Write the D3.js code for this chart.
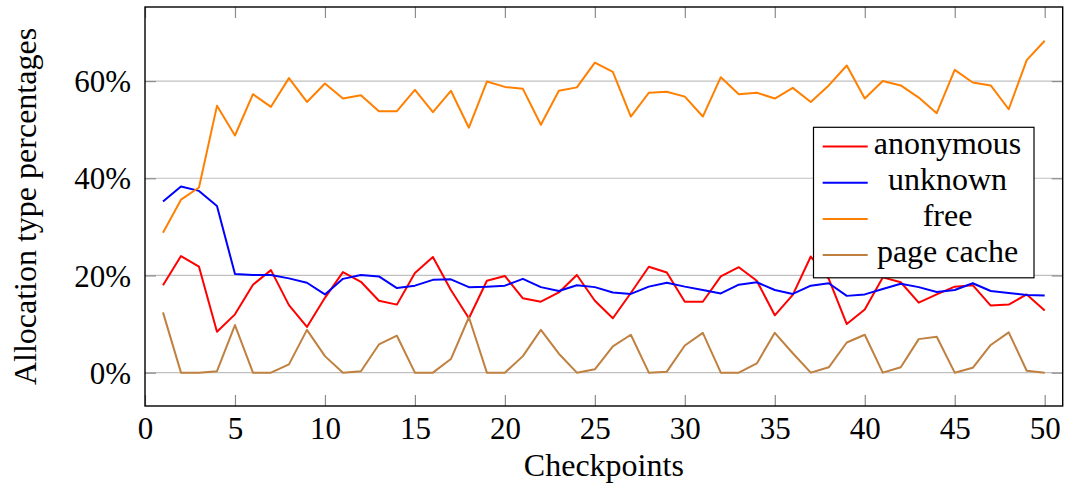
<!DOCTYPE html>
<html>
<head>
<meta charset="utf-8">
<script src="https://cdn.jsdelivr.net/npm/d3@7"></script>
</head>
<body style="margin:0">
<script>
// Chart size and plot box
const width = 1068;
const height = 489;
const box = { left: 145, right: 1062.7, top: 7, bottom: 406 };
const serifFont = '"Liberation Serif"';
const tickFontSize = "31px";
const labelFontSize = "32px";

// Data (percent per checkpoint)
const checkpoints = d3.range(1, 51);
const anonymous = [18.0, 24.0, 21.8, 8.4, 12.0, 18.1, 21.1, 13.9, 9.4, 15.4,
  20.7, 18.7, 14.8, 14.0, 20.5, 23.8, 17.0, 11.2, 18.9, 19.9,
  15.3, 14.6, 16.5, 20.1, 14.8, 11.2, 16.4, 21.8, 20.6, 14.6,
  14.6, 19.8, 21.7, 18.9, 11.8, 16.0, 23.9, 19.3, 10.0, 13.0,
  19.6, 18.6, 14.4, 16.1, 17.7, 18.0, 13.8, 14.0, 16.1, 12.8];
const unknown = [35.2, 38.3, 37.4, 34.3, 20.3, 20.1, 20.1, 19.4, 18.5, 16.1,
  19.3, 20.1, 19.8, 17.4, 17.9, 19.1, 19.2, 17.6, 17.7, 17.9,
  19.3, 17.6, 16.8, 18.0, 17.6, 16.5, 16.2, 17.7, 18.5, 17.7,
  17.0, 16.3, 18.1, 18.6, 17.0, 16.2, 17.9, 18.4, 15.8, 16.1,
  17.2, 18.3, 17.6, 16.6, 17.0, 18.4, 16.8, 16.4, 16.0, 15.9];
const free = [28.8, 35.6, 38.1, 54.9, 48.8, 57.3, 54.7, 60.6, 55.7, 59.5,
  56.4, 57.1, 53.8, 53.8, 58.2, 53.6, 58.0, 50.4, 59.9, 58.8,
  58.4, 51.0, 58.0, 58.7, 63.8, 61.9, 52.7, 57.6, 57.8, 56.8,
  52.7, 60.8, 57.3, 57.6, 56.4, 58.6, 55.7, 59.1, 63.2, 56.4,
  60.0, 59.1, 56.6, 53.4, 62.3, 59.7, 59.1, 54.2, 64.3, 68.3];
const pageCache = [12.4, 0, 0, 0.3, 9.8, 0, 0, 1.7, 8.8, 3.4,
  0, 0.3, 5.8, 7.6, 0, 0, 2.8, 11.4, 0, 0,
  3.4, 8.8, 3.9, 0, 0.7, 5.4, 7.8, 0, 0.2, 5.6,
  8.2, 0, 0, 1.9, 8.2, 4.0, 0, 1.1, 6.2, 7.8,
  0, 1.1, 6.9, 7.4, 0, 1.0, 5.7, 8.3, 0.4, 0];

const seriesNames = ["anonymous", "unknown", "free", "page cache"];
const seriesValues = [anonymous, unknown, free, pageCache];
const seriesColors = ["#ff0000", "#0000ff", "#ff8000", "#bf8040"];

const xTicks = d3.range(0, 51, 5);
const yTicks = [0, 20, 40, 60];

const svg = d3.select("body")
  .append("svg")
  .attr("width", width)
  .attr("height", height);

// Scales
const x = d3.scaleLinear().domain([0, 51]).range([box.left, box.right]);
const y = d3.scaleLinear().domain([-6.86, 75.24]).range([box.bottom, box.top]);

// Horizontal grid lines
svg.append("g")
  .selectAll("line")
  .data(yTicks)
  .join("line")
  .attr("x1", box.left)
  .attr("x2", box.right)
  .attr("y1", d => y(d))
  .attr("y2", d => y(d))
  .attr("stroke", "#c0c0c0")
  .attr("stroke-width", 1.2);

// Axes with inward ticks, top/bottom and left/right
const tickLen = 11;
const xBottom = svg.append("g")
  .attr("transform", `translate(0,${box.bottom})`)
  .call(d3.axisBottom(x).tickValues(xTicks).tickSize(-tickLen).tickPadding(11));
const xTop = svg.append("g")
  .attr("transform", `translate(0,${box.top})`)
  .call(d3.axisTop(x).tickValues(xTicks).tickSize(-tickLen).tickFormat(""));
const yLeft = svg.append("g")
  .attr("transform", `translate(${box.left},0)`)
  .call(d3.axisLeft(y).tickValues(yTicks).tickSize(-tickLen).tickPadding(14).tickFormat(d => d + "%"));
const yRight = svg.append("g")
  .attr("transform", `translate(${box.right},0)`)
  .call(d3.axisRight(y).tickValues(yTicks).tickSize(-tickLen).tickFormat(""));

[xBottom, xTop, yLeft, yRight].forEach(g => {
  g.select(".domain").remove();
  g.selectAll(".tick line").attr("stroke", "#8c8c8c").attr("stroke-width", 1.2);
  g.selectAll(".tick text")
    .attr("fill", "#000")
    .style("font-family", serifFont)
    .style("font-size", tickFontSize);
});
yLeft.selectAll(".tick text").attr("dy", "0.34em");

// Lines
const line = d3.line()
  .x((d, i) => x(checkpoints[i]))
  .y(d => y(d));

svg.append("g")
  .selectAll("path")
  .data(seriesValues)
  .join("path")
  .attr("d", d => line(d))
  .attr("fill", "none")
  .attr("stroke", (d, i) => seriesColors[i])
  .attr("stroke-width", 2)
  .attr("stroke-linejoin", "round");

// Frame
svg.append("rect")
  .attr("x", box.left)
  .attr("y", box.top)
  .attr("width", box.right - box.left)
  .attr("height", box.bottom - box.top)
  .attr("fill", "none")
  .attr("stroke", "#000")
  .attr("stroke-width", 1.4);

// Axis labels
svg.append("text")
  .attr("x", (box.left + box.right) / 2)
  .attr("y", 476)
  .attr("text-anchor", "middle")
  .style("font-family", serifFont)
  .style("font-size", labelFontSize)
  .text("Checkpoints");

svg.append("text")
  .attr("transform", `translate(36,${(box.top + box.bottom) / 2}) rotate(-90)`)
  .attr("text-anchor", "middle")
  .style("font-family", serifFont)
  .style("font-size", labelFontSize)
  .text("Allocation type percentages");

// Legend
const legend = svg.append("g").attr("transform", "translate(813.5,127.3)");
legend.append("rect")
  .attr("width", 220.5)
  .attr("height", 150.5)
  .attr("fill", "#fff")
  .attr("stroke", "#000")
  .attr("stroke-width", 1.2);

const rows = legend.selectAll("g.row")
  .data(seriesNames)
  .join("g")
  .attr("class", "row")
  .attr("transform", (d, i) => `translate(0,${19.2 + i * 36.2})`);

rows.append("line")
  .attr("x1", 9.2)
  .attr("x2", 54.2)
  .attr("stroke", (d, i) => seriesColors[i])
  .attr("stroke-width", 2);

rows.append("text")
  .attr("x", 134)
  .attr("dy", "0.22em")
  .attr("text-anchor", "middle")
  .style("font-family", serifFont)
  .style("font-size", labelFontSize)
  .text(d => d);
</script>
</body>
</html>
